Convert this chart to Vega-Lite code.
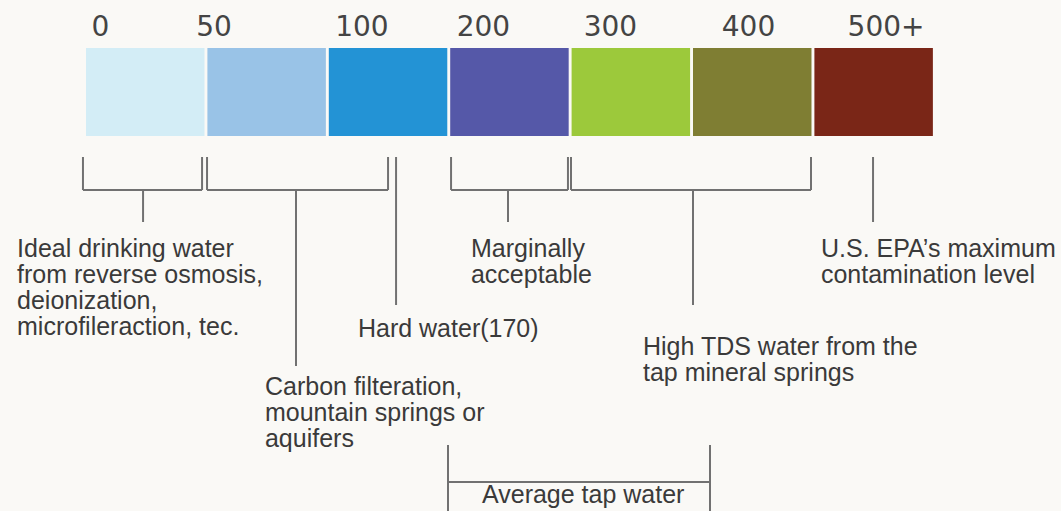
{
  "$schema": "https://vega.github.io/schema/vega-lite/v6.json",
  "width": 1061,
  "height": 511,
  "autosize": {"type": "none"},
  "padding": 0,
  "background": "#faf9f6",
  "config": {"view": {"stroke": null}},
  "datasets": {
    "boxes": [
      {"band": "0–50", "start": 0, "end": 0.976},
      {"band": "50–100", "start": 1, "end": 1.976},
      {"band": "100–200", "start": 2, "end": 2.976},
      {"band": "200–300", "start": 3, "end": 3.976},
      {"band": "300–400", "start": 4, "end": 4.976},
      {"band": "400–500", "start": 5, "end": 5.976},
      {"band": "500+", "start": 6, "end": 6.976}
    ],
    "labels": [
      {"label": "0", "pos": 0.119},
      {"label": "50", "pos": 1.054},
      {"label": "100", "pos": 2.273},
      {"label": "200", "pos": 3.274},
      {"label": "300", "pos": 4.32},
      {"label": "400", "pos": 5.457},
      {"label": "500+", "pos": 6.59}
    ],
    "lines": [
      {"x": -0.025, "x2": -0.025, "y": 157, "y2": 190},
      {"x": -0.025, "x2": 0.956, "y": 190, "y2": 190},
      {"x": 0.956, "x2": 0.956, "y": 157, "y2": 190},
      {"x": 0.47, "x2": 0.47, "y": 190, "y2": 222},
      {"x": 0.997, "x2": 0.997, "y": 157, "y2": 190},
      {"x": 0.997, "x2": 2.488, "y": 190, "y2": 190},
      {"x": 2.488, "x2": 2.488, "y": 157, "y2": 190},
      {"x": 1.73, "x2": 1.73, "y": 190, "y2": 366},
      {"x": 2.554, "x2": 2.554, "y": 157, "y2": 305},
      {"x": 3.007, "x2": 3.007, "y": 157, "y2": 190},
      {"x": 3.007, "x2": 3.97, "y": 190, "y2": 190},
      {"x": 3.97, "x2": 3.97, "y": 157, "y2": 190},
      {"x": 3.476, "x2": 3.476, "y": 190, "y2": 222},
      {"x": 3.995, "x2": 3.995, "y": 157, "y2": 190},
      {"x": 3.995, "x2": 5.972, "y": 190, "y2": 190},
      {"x": 5.972, "x2": 5.972, "y": 157, "y2": 190},
      {"x": 5.0, "x2": 5.0, "y": 190, "y2": 305},
      {"x": 6.483, "x2": 6.483, "y": 157, "y2": 222},
      {"x": 2.982, "x2": 2.982, "y": 445, "y2": 511},
      {"x": 2.982, "x2": 5.14, "y": 482, "y2": 482},
      {"x": 5.14, "x2": 5.14, "y": 445, "y2": 511}
    ],
    "notes": [
      {"text": ["Ideal drinking water", "from reverse osmosis,", "deionization,", "microfileraction, tec."], "x": -0.568, "y": 257},
      {"text": ["Marginally", "acceptable"], "x": 3.171, "y": 257},
      {"text": ["U.S. EPA’s maximum", "contamination level"], "x": 6.054, "y": 257},
      {"text": ["Hard water(170)"], "x": 2.24, "y": 337},
      {"text": ["High TDS water from the", "tap mineral springs"], "x": 4.588, "y": 355},
      {"text": ["Carbon filteration,", "mountain springs or", "aquifers"], "x": 1.474, "y": 395},
      {"text": ["Average tap water"], "x": 3.262, "y": 503}
    ]
  },
  "layer": [
    {
      "data": {"name": "boxes"},
      "mark": {"type": "rect"},
      "encoding": {
        "x": {"field": "start", "type": "quantitative", "scale": {"domain": [-0.7084, 8.0313], "nice": false, "zero": false}, "axis": null},
        "x2": {"field": "end"},
        "y": {"datum": 48, "type": "quantitative", "scale": {"domain": [0, 511], "nice": false, "zero": false, "reverse": true}, "axis": null},
        "y2": {"datum": 136},
        "color": {
          "field": "band", "type": "nominal", "legend": null,
          "scale": {
            "domain": ["0–50", "50–100", "100–200", "200–300", "300–400", "400–500", "500+"],
            "range": ["#d3edf6", "#99c3e7", "#2393d5", "#5558a8", "#9cc93b", "#7f7e33", "#7a2617"]
          }
        }
      }
    },
    {
      "data": {"name": "labels"},
      "mark": {"type": "text", "font": "DejaVu Sans", "fontSize": 28, "color": "#444444", "align": "center", "baseline": "alphabetic"},
      "encoding": {
        "x": {"field": "pos", "type": "quantitative", "scale": {"domain": [-0.7084, 8.0313], "nice": false, "zero": false}, "axis": null},
        "y": {"datum": 36, "type": "quantitative", "scale": {"domain": [0, 511], "nice": false, "zero": false, "reverse": true}, "axis": null},
        "text": {"field": "label"}
      }
    },
    {
      "data": {"name": "lines"},
      "mark": {"type": "rule", "color": "#717171", "strokeWidth": 2},
      "encoding": {
        "x": {"field": "x", "type": "quantitative", "scale": {"domain": [-0.7084, 8.0313], "nice": false, "zero": false}, "axis": null},
        "x2": {"field": "x2"},
        "y": {"field": "y", "type": "quantitative", "scale": {"domain": [0, 511], "nice": false, "zero": false, "reverse": true}, "axis": null},
        "y2": {"field": "y2"}
      }
    },
    {
      "data": {"name": "notes"},
      "mark": {"type": "text", "font": "Liberation Sans", "fontSize": 25, "color": "#3a3a3a", "align": "left", "baseline": "alphabetic", "lineHeight": 26},
      "encoding": {
        "x": {"field": "x", "type": "quantitative", "scale": {"domain": [-0.7084, 8.0313], "nice": false, "zero": false}, "axis": null},
        "y": {"field": "y", "type": "quantitative", "scale": {"domain": [0, 511], "nice": false, "zero": false, "reverse": true}, "axis": null},
        "text": {"field": "text"}
      }
    }
  ]
}
